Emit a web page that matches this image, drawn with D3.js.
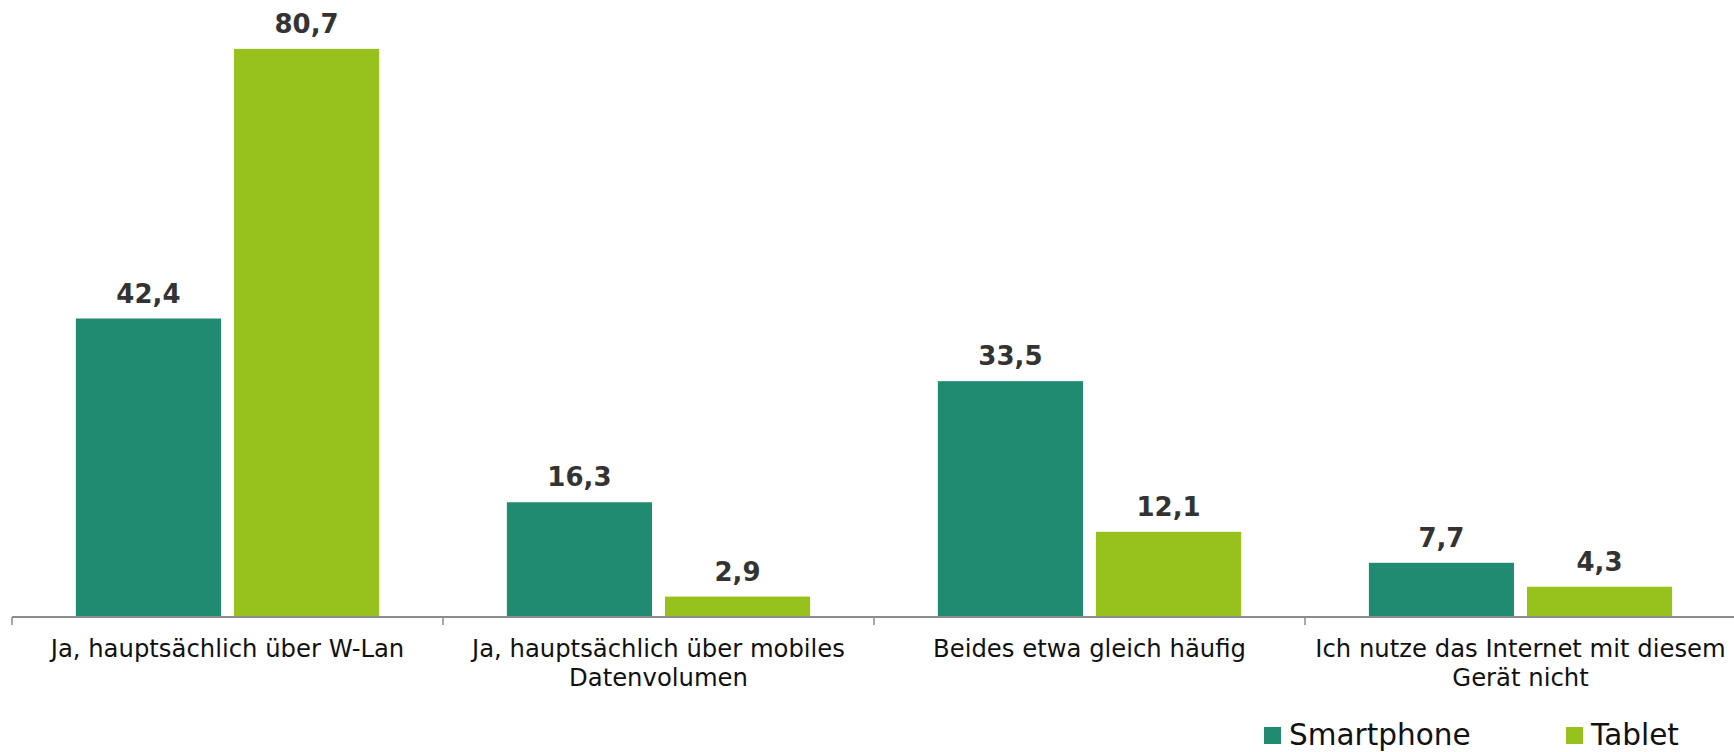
<!DOCTYPE html>
<html lang="de">
<head>
<meta charset="utf-8">
<script src="https://cdn.jsdelivr.net/npm/d3@7"></script>
<style>
  html, body { margin: 0; padding: 0; background: #fff; }
  svg { display: block; font-family: "DejaVu Sans", Verdana, sans-serif; }
</style>
</head>
<body>
<svg id="chart" width="1734" height="752"></svg>
<script>
// Internetnutzung nach Gerät (Anteile in %)
const categories = [
  "Ja, hauptsächlich über W-Lan",
  "Ja, hauptsächlich über mobiles Datenvolumen",
  "Beides etwa gleich häufig",
  "Ich nutze das Internet mit diesem Gerät nicht"
];
const seriesNames = ["Smartphone", "Tablet"];
const smartphone = [42.4, 16.3, 33.5, 7.7];
const tablet = [80.7, 2.9, 12.1, 4.3];
const colors = ["#218B71", "#97C21E"];

const rows = categories.map((c, i) => ({ category: c, values: [smartphone[i], tablet[i]] }));

const svg = d3.select("#chart");
const W = 1734;
const axisY = 617;
const left = 12;

const de = d3.formatLocale({ decimal: ",", thousands: ".", grouping: [3], currency: ["", " €"] });
const fmt = de.format(".1f");

const x0 = d3.scaleBand().domain(categories).range([left, left + 431 * 4]).paddingInner(0).paddingOuter(0);
const x1 = d3.scaleBand().domain(seriesNames).range([0, x0.bandwidth()]).paddingInner(0.082).paddingOuter(0.404);
const y = d3.scaleLinear().domain([0, 90]).range([axisY, axisY - 90 * 7.04]);
const color = d3.scaleOrdinal().domain(seriesNames).range(colors);

// Balken
const groups = svg.append("g").selectAll("g").data(rows).join("g")
  .attr("transform", d => `translate(${x0(d.category)},0)`);

groups.selectAll("rect")
  .data(d => d.values.map((v, k) => ({ key: seriesNames[k], value: v })))
  .join("rect")
  .attr("x", d => x1(d.key))
  .attr("width", x1.bandwidth())
  .attr("y", d => y(d.value))
  .attr("height", d => y(0) - y(d.value))
  .attr("fill", d => color(d.key));

groups.selectAll("text.val")
  .data(d => d.values.map((v, k) => ({ key: seriesNames[k], value: v })))
  .join("text")
  .attr("class", "val")
  .attr("x", d => x1(d.key) + x1.bandwidth() / 2)
  .attr("y", d => y(d.value) - 16)
  .attr("text-anchor", "middle")
  .attr("font-size", 26)
  .attr("font-weight", "bold")
  .attr("fill", "#333333")
  .text(d => fmt(d.value));

// x-Achse
const axis = svg.append("g").attr("transform", `translate(0,${axisY})`);
axis.append("line")
  .attr("x1", left).attr("x2", W)
  .attr("y1", 0).attr("y2", 0)
  .attr("stroke", "#8c8c8c").attr("stroke-width", 2);

axis.selectAll("line.tick")
  .data(categories)
  .join("line")
  .attr("class", "tick")
  .attr("x1", d => x0(d)).attr("x2", d => x0(d))
  .attr("y1", 0).attr("y2", 8)
  .attr("stroke", "#8c8c8c").attr("stroke-width", 1.5);

const labels = axis.selectAll("text.cat")
  .data(categories)
  .join("text")
  .attr("class", "cat")
  .attr("x", d => x0(d) + x0.bandwidth() / 2)
  .attr("y", 40)
  .attr("text-anchor", "middle")
  .attr("font-size", 24.3)
  .attr("fill", "#111111");

// Zeilenumbruch nach Bandbreite
labels.each(function (d) {
  const el = d3.select(this);
  const words = d.split(/\s+/);
  const maxW = x0.bandwidth() - 2;
  const lineH = 29;
  let line = [];
  let tspan = el.append("tspan").attr("x", el.attr("x")).attr("dy", 0);
  for (const w of words) {
    line.push(w);
    tspan.text(line.join(" "));
    if (tspan.node().getComputedTextLength() > maxW && line.length > 1) {
      line.pop();
      tspan.text(line.join(" "));
      line = [w];
      tspan = el.append("tspan").attr("x", el.attr("x")).attr("dy", lineH).text(w);
    }
  }
});

// Legende
const legendX = [1264, 1566];
const legend = svg.append("g").selectAll("g").data(seriesNames).join("g")
  .attr("transform", (d, i) => `translate(${legendX[i]},727)`);
legend.append("rect")
  .attr("width", 17).attr("height", 17)
  .attr("fill", d => color(d));
legend.append("text")
  .attr("x", 25).attr("y", 18)
  .attr("font-size", 29.5)
  .attr("fill", "#111111")
  .text(d => d);
</script>
</body>
</html>
